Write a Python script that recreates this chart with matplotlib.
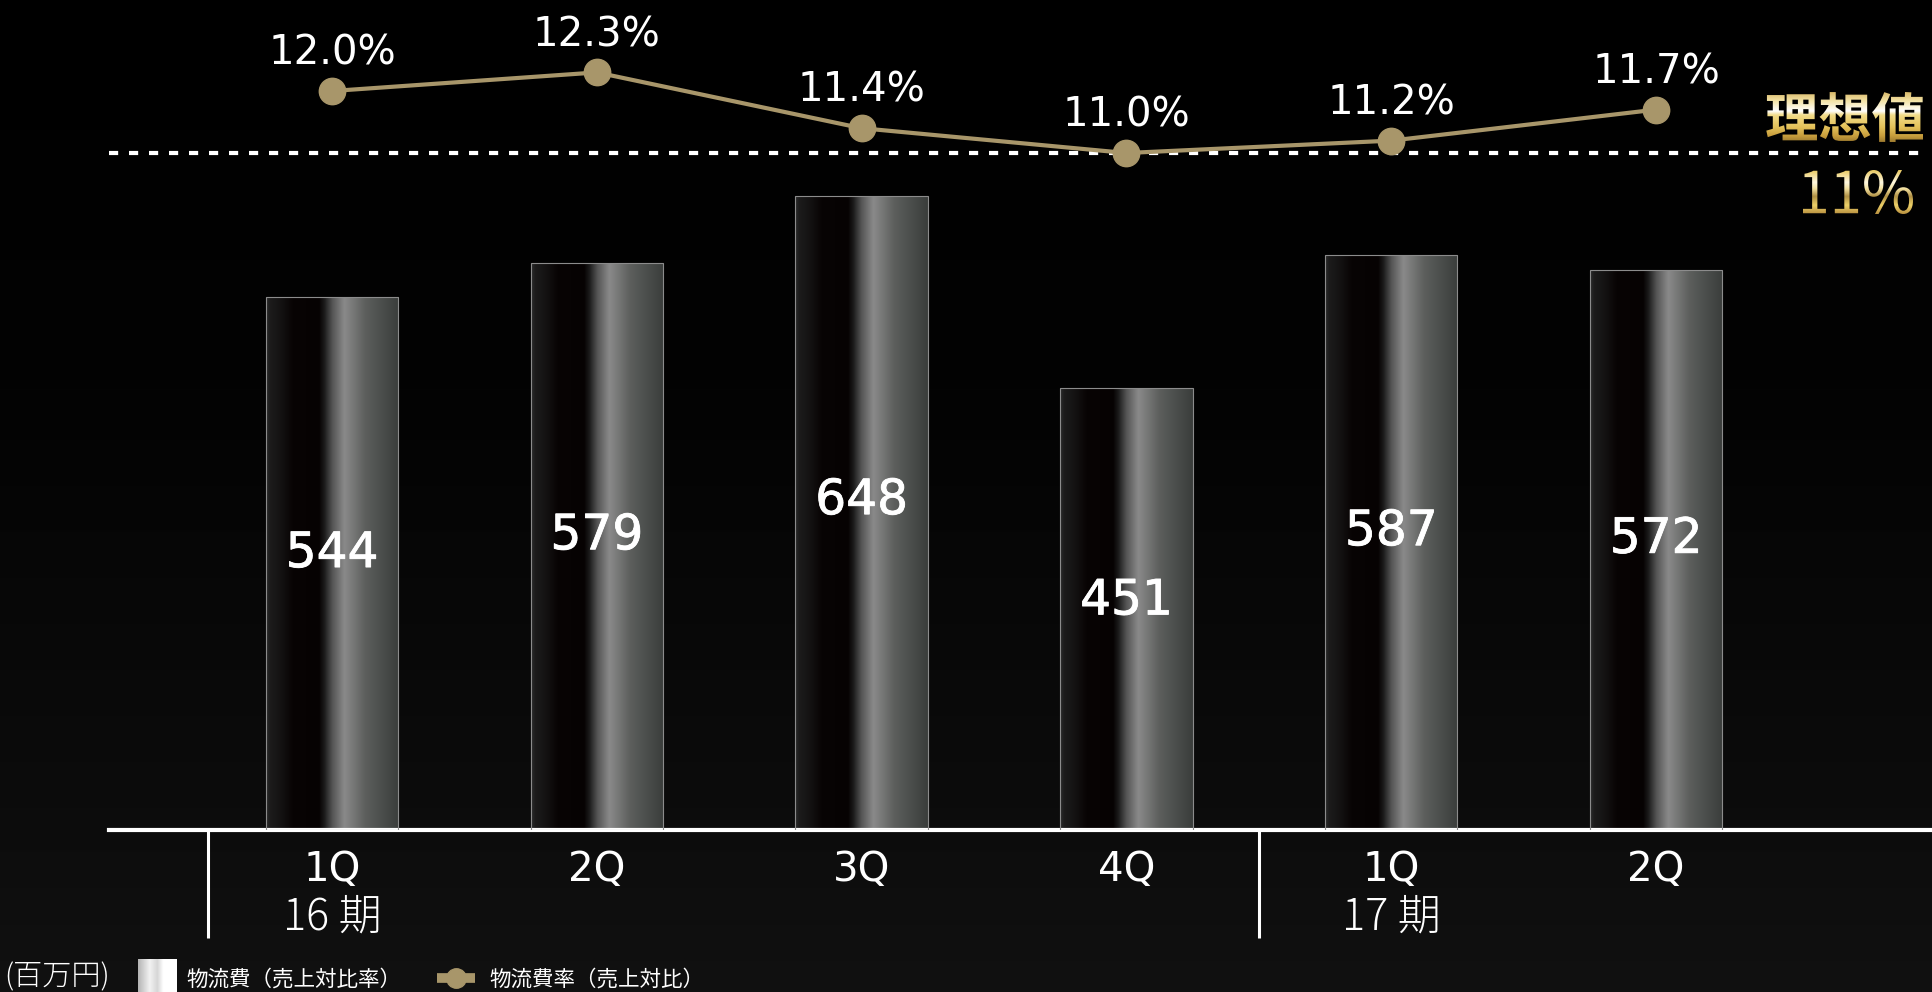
import numpy as np
import matplotlib
matplotlib.use("Agg")
import matplotlib.pyplot as plt
import matplotlib.patheffects as pe
from matplotlib.colors import LinearSegmentedColormap
from matplotlib.textpath import TextPath
from matplotlib.font_manager import FontProperties
from matplotlib.patches import PathPatch
from matplotlib.transforms import Affine2D, blended_transform_factory

# ---- data -------------------------------------------------------------
quarters = ["1Q", "2Q", "3Q", "4Q", "1Q", "2Q"]
periods = ["16 期", "17 期"]
period_start = [0, 4]
period_bounds = [-0.47, 3.5]
logistics_cost = [544, 579, 648, 451, 587, 572]      # 物流費（百万円）
cost_ratio = [12.0, 12.3, 11.4, 11.0, 11.2, 11.7]    # 物流費率（売上対比, %）
target_ratio = 11.0                                   # 理想値

# ---- style --------------------------------------------------------------
W, H = 1932, 992
GOLD = "#a8966a"
CJK = ["Noto Sans CJK JP", "DejaVu Sans"]
LATIN = ["DejaVu Sans"]

fig = plt.figure(figsize=(W / 100, H / 100), dpi=100)
fig.patch.set_facecolor("black")

# background: black fading to dark grey at the bottom
bg = fig.add_axes([0, 0, 1, 1], zorder=-10)
rows = np.linspace(0, 1, H)
shade = np.interp(rows, [0, 0.4, 0.85, 1.0], [0.0, 0.012, 0.05, 0.066])
bg_img = np.repeat(np.tile(shade[:, None], (1, 2))[..., None], 3, axis=2)
bg.imshow(bg_img, aspect="auto", extent=[0, 1, 0, 1])
bg.axis("off")

# ---- bars ---------------------------------------------------------------
ax = fig.add_axes([109 / W, (H - 830) / H, 1 - 109 / W, 830 / H])
ax.set_facecolor("none")
x = np.arange(len(quarters))
bars = ax.bar(x, logistics_cost, width=0.5, color="none",
              edgecolor="#8c8c8c", linewidth=0.8, zorder=3)

bar_cmap = LinearSegmentedColormap.from_list("bar", [
    (0.00, "#2c2c2c"), (0.03, "#1c1c1c"), (0.12, "#131111"),
    (0.20, "#080404"), (0.40, "#060202"), (0.44, "#1c1c1c"),
    (0.50, "#555555"), (0.59, "#8a8a8a"), (0.66, "#767776"),
    (0.75, "#5c5e5c"), (1.00, "#3a3d3b")])
hgrad = np.linspace(0, 1, 256)[None, :]
for b in bars:
    x0, y0, w, h = b.get_x(), b.get_y(), b.get_width(), b.get_height()
    im = ax.imshow(hgrad, cmap=bar_cmap, extent=[x0, x0 + w, y0, y0 + h],
                   aspect="auto", interpolation="bilinear", zorder=2)
    im.set_clip_path(b)

for xi, v in zip(x, logistics_cost):
    ax.text(xi, v * 0.52, f"{v}", ha="center", va="center", color="white",
            fontsize=35, family=LATIN, zorder=4,
            path_effects=[pe.withStroke(linewidth=0.6, foreground="white")])

ax.set_xlim(-0.842, 6.042)
ax.set_ylim(0, 847.8)
for side in ("left", "right", "top"):
    ax.spines[side].set_visible(False)
ax.spines["bottom"].set_color("white")
ax.spines["bottom"].set_linewidth(3)
ax.set_xticks([])
ax.set_yticks([])

trans = blended_transform_factory(ax.transData, ax.transAxes)
for xi, q in zip(x, quarters):
    ax.annotate(q, xy=(xi, 0), xycoords=trans, xytext=(0, -36.5),
                textcoords="offset points", ha="center", va="baseline",
                color="white", fontsize=29, family=LATIN)
for xs, p in zip(period_start, periods):
    ax.annotate(p, xy=(xs, 0), xycoords=trans, xytext=(0, -72),
                textcoords="offset points", ha="center", va="baseline",
                color="white", fontsize=31, fontweight="light", family=CJK)
for sx in period_bounds:
    ax.plot([sx, sx], [0, -108 / 830], transform=trans, color="white",
            lw=2.2, clip_on=False, solid_capstyle="butt")

# ---- ratio line ---------------------------------------------------------
ax2 = ax.twinx()
ax2.set_ylim(0.081, 13.468)
ax2.axis("off")
ax2.axhline(target_ratio, xmin=0, xmax=0.9956, color="white", lw=3,
            ls=(0, (2.2, 2.6)), zorder=1)
ax2.plot(x, cost_ratio, color=GOLD, lw=3, marker="o", ms=19, zorder=3)
for xi, r in zip(x, cost_ratio):
    ax2.annotate(f"{r:.1f}%", xy=(xi, r), xytext=(0, 19),
                 textcoords="offset points", ha="center", va="baseline",
                 color="white", fontsize=29, family=LATIN)

# ---- overlay: gold captions and legend ---------------------------------
ov = fig.add_axes([0, 0, 1, 1], zorder=20)
ov.patch.set_visible(False)


def gold_text(s, fp, right, top, height, stops):
    tp = TextPath((0, 0), s, size=100, prop=fp)
    ext = tp.get_extents()
    k = height / ext.height
    tr = Affine2D().translate(-ext.x1, -ext.y1).scale(k).translate(right, top)
    path = tr.transform_path(tp)
    patch = PathPatch(path, facecolor="none", edgecolor="none",
                      transform=ov.transData)
    ov.add_patch(patch)
    e = path.get_extents()
    cmap = LinearSegmentedColormap.from_list("gold", stops)
    img = ov.imshow(np.linspace(0, 1, 256)[:, None], cmap=cmap,
                    extent=[e.x0, e.x1, e.y0, e.y1], origin="upper",
                    aspect="auto", interpolation="bilinear")
    img.set_clip_path(patch)


gold_text("理想値", FontProperties(family="Noto Sans CJK JP", weight="bold"),
          1923, H - 92, 50,
          [(0.0, "#d8b868"), (0.18, "#f4e4a8"), (0.38, "#ffffff"),
           (0.46, "#f2dc8a"), (0.70, "#e4c25a"), (0.88, "#c79d3c"),
           (1.0, "#9c7a30")])
gold_text("11%", FontProperties(family="Noto Sans CJK JP", weight="normal"),
          1913, H - 170, 44,
          [(0.0, "#e8c860"), (0.28, "#fff8e0"), (0.42, "#f4e2a2"),
           (0.60, "#b09044"), (0.80, "#ecd068"), (1.0, "#b89040")])

# legend row
ov.text(4, H - 977, "(百万円)", ha="left", va="center", color="white",
        fontsize=21, fontweight="light", family=CJK)
legend_cmap = LinearSegmentedColormap.from_list("lg", [
    (0.0, "#b4b4b4"), (0.3, "#f2f2f2"), (0.5, "#d6d6d6"),
    (0.65, "#ffffff"), (1.0, "#ffffff")])
ov.imshow(hgrad, cmap=legend_cmap, extent=[138, 177, 0, H - 959],
          aspect="auto", interpolation="bilinear")
ov.text(186, H - 980, "物流費（売上対比率）", ha="left", va="center",
        color="white", fontsize=15.5, family=CJK)
ov.plot([437, 475], [H - 978, H - 978], color=GOLD, lw=7,
        solid_capstyle="butt")
ov.plot([456], [H - 978], "o", color=GOLD, ms=14)
ov.text(489, H - 980, "物流費率（売上対比）", ha="left", va="center",
        color="white", fontsize=15.5, family=CJK)

ov.set_xlim(0, W)
ov.set_ylim(0, H)
ov.axis("off")

fig.savefig("out.png", dpi=100, facecolor="black")
